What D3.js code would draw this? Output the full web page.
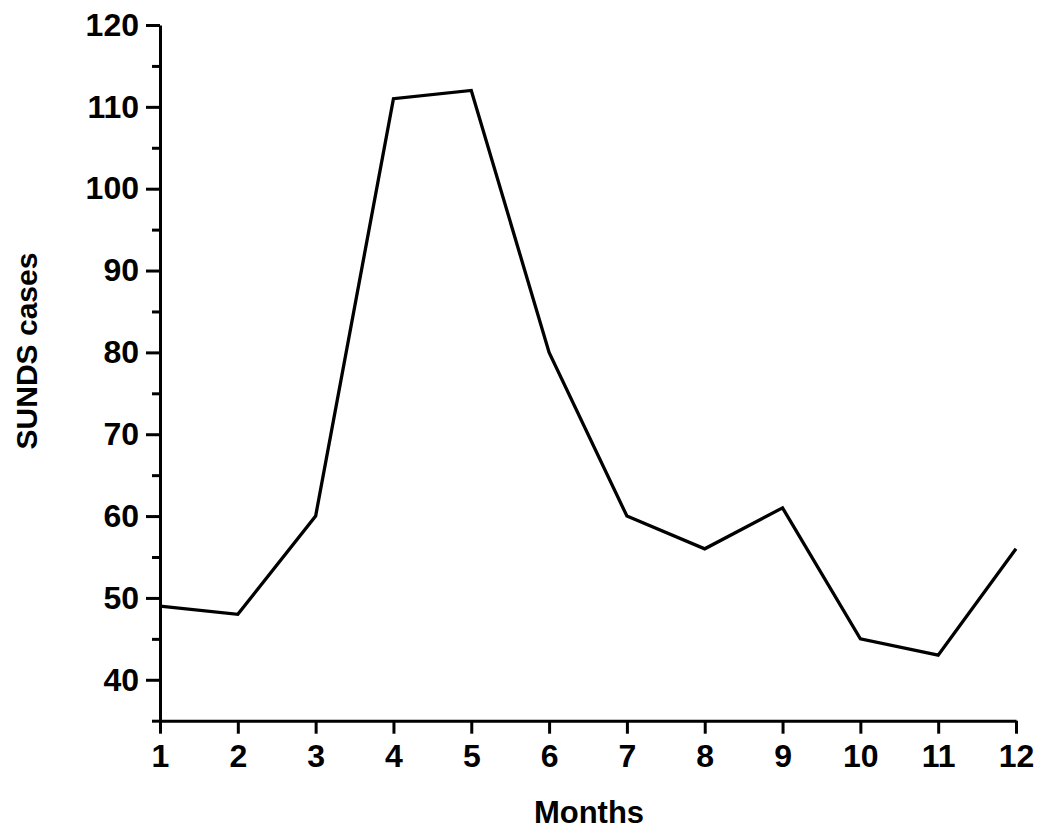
<!DOCTYPE html>
<html><head><meta charset="utf-8">
<script src="https://cdn.jsdelivr.net/npm/d3@7"></script>
<style>body{margin:0;background:#fff}svg{display:block}text{font-family:"Liberation Sans",Arial,sans-serif;font-weight:bold;fill:#000}</style>
</head><body>
<script>
const months = [1,2,3,4,5,6,7,8,9,10,11,12];
const cases = [49,48,60,111,112,80,60,56,61,45,43,56];
const yTicks = [40,50,60,70,80,90,100,110,120];
const yMinor = [35,45,55,65,75,85,95,105,115];

const W=1050,H=836;
const svg=d3.select("body").append("svg").attr("width",W).attr("height",H);
const x=d3.scaleLinear().domain([1,12]).range([160,1016]);
const y=d3.scaleLinear().domain([35,120]).range([720.7,25]);

const gx=svg.append("g").attr("transform","translate(0,720.7)")
  .call(d3.axisBottom(x).tickValues(months).tickFormat(d3.format("d")).tickSize(13).tickPadding(11).tickSizeOuter(0));
const gy=svg.append("g").attr("transform","translate(160,0)")
  .call(d3.axisLeft(y).tickValues(yTicks).tickSize(14).tickPadding(7).tickSizeOuter(0));
const gym=svg.append("g").attr("transform","translate(160,0)")
  .call(d3.axisLeft(y).tickValues(yMinor).tickSize(8).tickFormat("").tickSizeOuter(0));
gym.select(".domain").remove();
[gx,gy,gym].forEach(g=>{
  g.selectAll("path.domain").attr("stroke","#000").attr("stroke-width",3);
  g.selectAll(".tick line").attr("stroke","#000").attr("stroke-width",3);
  g.selectAll(".tick text").style("font-size","32px").style("font-family","Liberation Sans, Arial, sans-serif").style("font-weight","bold");
});
gx.selectAll(".tick text").attr("dy","0.71em");

svg.append("path").datum(months.map((m,i)=>[m,cases[i]]))
  .attr("fill","none").attr("stroke","#000").attr("stroke-width",3.3).attr("stroke-linejoin","miter")
  .attr("d",d3.line().x(d=>x(d[0])).y(d=>y(d[1])));

svg.append("text").attr("x",589).attr("y",823).attr("text-anchor","middle").style("font-size","31px").text("Months");
svg.append("text").attr("transform","translate(37,351) rotate(-90)").attr("text-anchor","middle").style("font-size","30px").text("SUNDS cases");
</script>
</body></html>
